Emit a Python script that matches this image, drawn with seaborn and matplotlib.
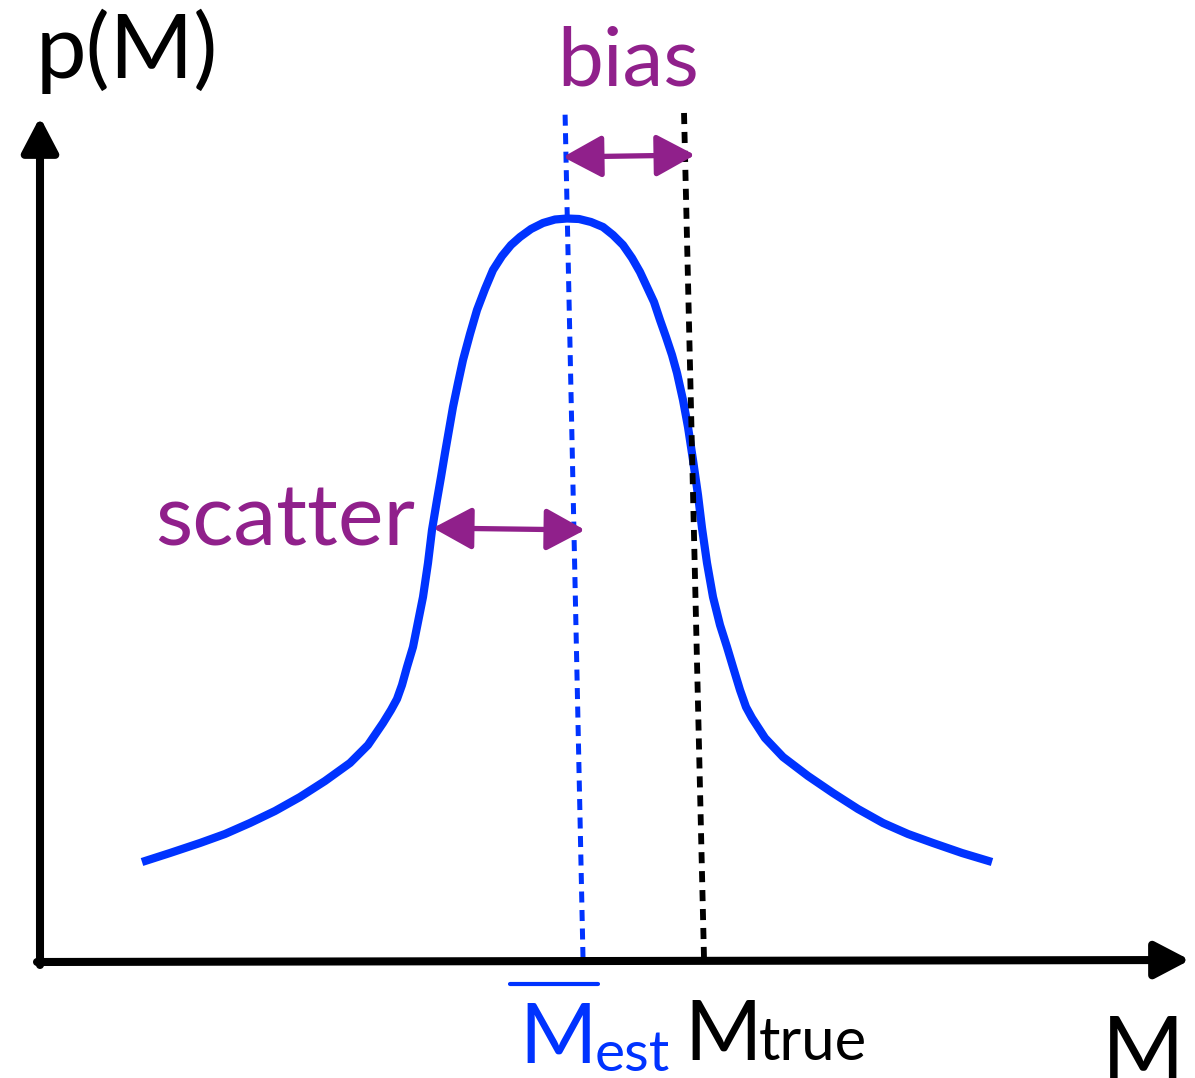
import numpy as np
import pandas as pd
import matplotlib
matplotlib.use('Agg')
import matplotlib.pyplot as plt
import seaborn as sns

#------------------------------------------------------------
# datos leidos del esquema (unidades: M horizontal, p(M) vertical)
#------------------------------------------------------------
curva_m = [102, 130, 160, 185, 210, 235, 260, 285, 310, 328, 343, 351, 357, 362,
           367, 373, 378, 383, 388, 392, 397, 401, 405, 409, 413, 418, 423, 430,
           437, 445, 453, 462, 471, 480, 491, 503, 515, 527,
           539, 551, 563, 573, 583, 592, 600, 607, 614, 620, 626, 632, 637, 643,
           648, 653, 658, 662, 667, 673, 680, 687, 693, 700, 706, 712, 725, 743,
           768, 793, 818, 843, 868, 893, 922, 952]
curva_p = [100, 109, 119, 128, 139, 151, 165, 181, 199, 217, 239, 252, 263, 277,
           295, 315, 340, 365, 399, 432, 462, 485, 509, 532, 555, 579, 602, 628,
           652, 673, 692, 706, 717, 725, 733, 739, 742.5, 743.5,
           743, 740, 735, 727, 717, 704, 690, 675, 660, 642, 625, 607, 589, 562,
           535, 502, 467, 434, 399, 365, 337, 315, 295, 272, 255, 244, 224, 205,
           186, 169, 153, 139, 128, 119, 109, 100]

m_est_x = [543, 525]
m_est_y = [4, 852]
m_true_x = [664, 644]
m_true_y = [4, 850]

bias_x = [523, 655]
bias_y = [805, 807]
scatter_x = [393, 545]
scatter_y = [434, 432]

eje_x_fin = 1150
eje_y_fin = 845

azul = '#0033FF'
morado = '#90208B'

sns.set_theme(style='white')
plt.rcParams['font.family'] = ['Lato', 'DejaVu Sans']

fig = plt.figure(figsize=(11.95, 10.78), dpi=100)
ax = fig.add_axes([0, 0, 1, 1])
ax.set_xlim(-40, 1155)
ax.set_ylim(-116, 962)
ax.axis('off')

# curva p(M)
df = pd.DataFrame({'M': curva_m, 'p': curva_p})
sns.lineplot(data=df, x='M', y='p', ax=ax, color=azul, lw=5.9, sort=False,
             solid_capstyle='butt', solid_joinstyle='round')

# lineas verticales
ax.plot(m_est_x, m_est_y, color=azul, lw=3.6, linestyle=(0, (2.2, 1.5)))
ax.plot(m_true_x, m_true_y, color='black', lw=4.2, linestyle=(0, (1.9, 1.35)))

# ejes con flecha
flecha_eje = dict(arrowstyle='-|>,head_length=1.05,head_width=0.55', lw=5.8,
                  color='black', mutation_scale=20, shrinkA=0, shrinkB=0)
ax.annotate('', xy=(0, eje_y_fin), xytext=(0, -3), arrowprops=flecha_eje)
ax.annotate('', xy=(eje_x_fin, 2), xytext=(-3, 0), arrowprops=flecha_eje)

# flechas bias y scatter
flecha_m = dict(arrowstyle='<|-|>,head_length=1.2,head_width=0.65', lw=3.8,
                color=morado, mutation_scale=20, shrinkA=0, shrinkB=0)
ax.annotate('', xy=(bias_x[1], bias_y[1]), xytext=(bias_x[0], bias_y[0]),
            arrowprops=flecha_m)
ax.annotate('', xy=(scatter_x[1], scatter_y[1]), xytext=(scatter_x[0], scatter_y[0]),
            arrowprops=flecha_m)

# textos
ax.text(-4, 884, 'p(M)', fontsize=65, color='black', ha='left', va='baseline')
ax.text(517, 877, 'bias', fontsize=59, color=morado, ha='left', va='baseline')
ax.text(115, 417, 'scatter', fontsize=62, color=morado, ha='left', va='baseline')

ax.text(479, -101, 'M', fontsize=60, color=azul, ha='left', va='baseline')
ax.text(555, -109, 'est', fontsize=41, color=azul, ha='left', va='baseline')
ax.plot([470, 558], [-22, -22], color=azul, lw=3)
ax.text(644, -98, 'M', fontsize=60, color='black', ha='left', va='baseline')
ax.text(719, -98, 'true', fontsize=43, color='black', ha='left', va='baseline')
ax.text(1062, -118, 'M', fontsize=64, color='black', ha='left', va='baseline')

fig.savefig('out.png', dpi=100, facecolor='white')
